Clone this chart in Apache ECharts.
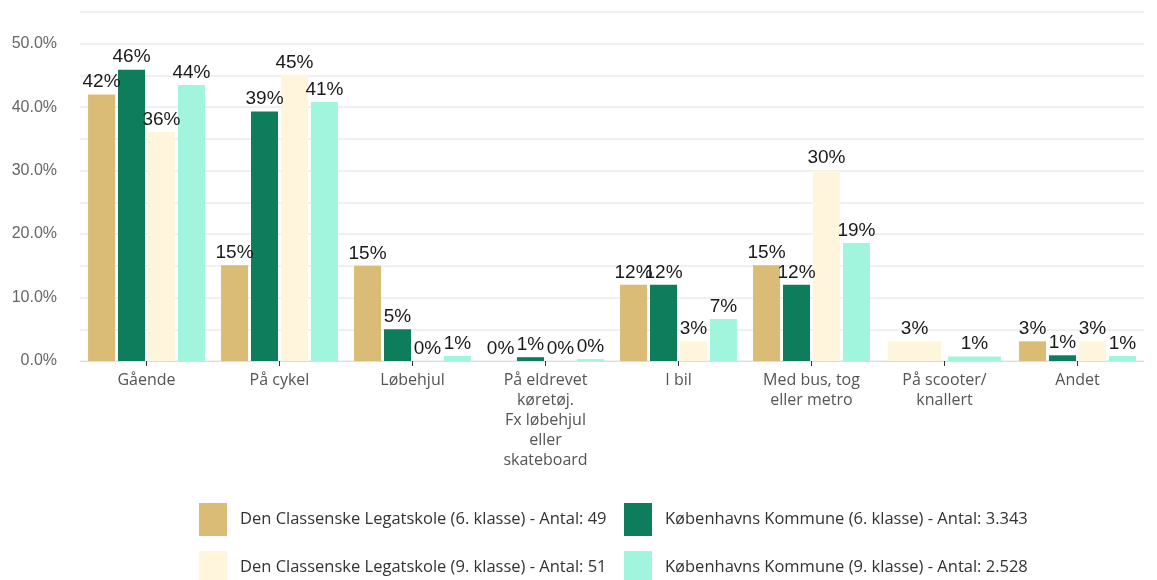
<!DOCTYPE html>
<html>
<head>
<meta charset="utf-8">
<script src="https://cdn.jsdelivr.net/npm/echarts@6/dist/echarts.min.js"></script>
<style>html,body{margin:0;padding:0;background:#fff}#c{width:1157px;height:580px}</style>
</head>
<body>
<div id="c"></div>
<script>
var categories = ['Gående', 'På cykel', 'Løbehjul', 'På eldrevet\nkøretøj.\nFx løbehjul\neller\nskateboard', 'I bil', 'Med bus, tog\neller metro', 'På scooter/\nknallert', 'Andet'];
var seriesNames = [
  'Den Classenske Legatskole (6. klasse) - Antal: 49',
  'Københavns Kommune (6. klasse) - Antal: 3.343',
  'Den Classenske Legatskole (9. klasse) - Antal: 51',
  'Københavns Kommune (9. klasse) - Antal: 2.528'
];
var school6 = [42.0, 15.1, 15.0, 0, 12.0, 15.1, null, 3.1];
var kbh6    = [45.9, 39.3, 5.0, 0.6, 12.0, 12.0, null, 0.9];
var school9 = [36.1, 45.1, 0, 0, 3.1, 30.0, null, 3.1];
var kbh9    = [43.5, 40.8, 0.8, 0.3, 6.6, 18.6, null, 0.8];
// "På scooter/knallert" only has answers for the 9th-grade groups
var scooterSchool9 = [null, null, null, null, null, null, 3.1, null];
var scooterKbh9    = [null, null, null, null, null, null, 0.7, null];
var colors = ['#dbbc77', '#0e7d5c', '#fff4dc', '#a2f5dd'];

var labelCfg = {
  show: true, position: 'top', distance: 3,
  fontFamily: 'Liberation Sans, Arial, sans-serif', fontSize: 19, color: '#1a1a1a',
  formatter: function (p) { return Math.round(p.value) + '%'; }
};
function mk(name, data, color, axis, width, gap) {
  return {
    name: name, type: 'bar', data: data, xAxisIndex: axis,
    barWidth: width, barGap: gap,
    itemStyle: { color: color },
    label: labelCfg,
    emphasis: { disabled: true }
  };
}
var chart = echarts.init(document.getElementById('c'));
var catAxis = {
  type: 'category', data: categories,
  axisLine: { lineStyle: { color: '#dddddd' } },
  axisTick: { show: true, alignWithLabel: true, interval: 0, length: 5, lineStyle: { color: '#333' } },
  axisLabel: { interval: 0, margin: 9, color: '#555', fontFamily: 'Open Sans, sans-serif', fontSize: 16, lineHeight: 20 }
};
var legendBase = {
  orient: 'vertical', top: 503, height: 200, padding: 0,
  itemWidth: 28, itemHeight: 33, itemGap: 15,
  icon: 'rect', selectedMode: false,
  textStyle: { fontFamily: 'Open Sans, sans-serif', fontSize: 16.5, color: '#333', padding: [0, 0, 0, 8] }
};
chart.setOption({
  animation: false,
  color: colors,
  grid: { left: 80, right: 13, top: 12, bottom: 219 },
  xAxis: [catAxis, Object.assign({}, catAxis, { show: false })],
  yAxis: {
    type: 'value', min: 0, max: 55, interval: 5,
    axisLine: { show: false }, axisTick: { show: false },
    splitLine: { lineStyle: { color: '#ebebeb', width: 1.5 } },
    axisLabel: {
      margin: 23, color: '#666', fontFamily: 'Liberation Sans, Arial, sans-serif', fontSize: 16,
      formatter: function (v) { return v % 10 === 0 ? v.toFixed(1) + '%' : ''; }
    }
  },
  legend: [
    Object.assign({}, legendBase, { left: 199, data: [seriesNames[0], seriesNames[2]] }),
    Object.assign({}, legendBase, { left: 624, data: [seriesNames[1], seriesNames[3]] })
  ],
  series: [
    mk(seriesNames[0], school6, colors[0], 0, 27, '11%'),
    mk(seriesNames[1], kbh6, colors[1], 0, 27, '11%'),
    mk(seriesNames[2], school9, colors[2], 0, 27, '11%'),
    mk(seriesNames[3], kbh9, colors[3], 0, 27, '11%'),
    mk(seriesNames[2], scooterSchool9, colors[2], 1, 53, '13%'),
    mk(seriesNames[3], scooterKbh9, colors[3], 1, 53, '13%')
  ]
});
</script>
</body>
</html>
